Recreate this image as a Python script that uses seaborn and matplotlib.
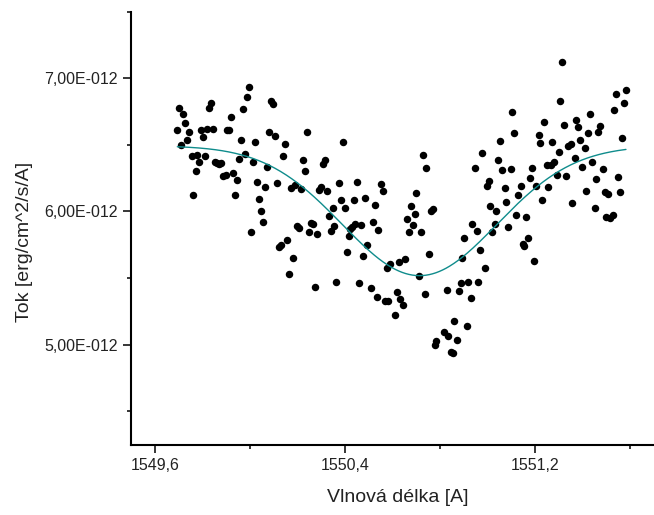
import matplotlib
matplotlib.use("Agg")
import numpy as np
import pandas as pd
import seaborn as sns
import matplotlib.pyplot as plt
from matplotlib.ticker import FuncFormatter, MultipleLocator

# Measured spectrum: wavelength [A] and flux [1e-12 erg/cm^2/s/A]
wavelength = [
    1549.695, 1549.704, 1549.712, 1549.720, 1549.728, 1549.736, 1549.744, 1549.755,
    1549.763, 1549.772, 1549.779, 1549.786, 1549.796, 1549.804, 1549.813, 1549.820,
    1549.828, 1549.837, 1549.846, 1549.855, 1549.863, 1549.872, 1549.880, 1549.888,
    1549.898, 1549.905, 1549.914, 1549.922, 1549.929, 1549.938, 1549.947, 1549.956,
    1549.963, 1549.971, 1549.980, 1549.988, 1549.998, 1550.006, 1550.013, 1550.023,
    1550.030, 1550.040, 1550.047, 1550.056, 1550.064, 1550.072, 1550.081, 1550.089,
    1550.098, 1550.106, 1550.115, 1550.123, 1550.131, 1550.140, 1550.148, 1550.157,
    1550.165, 1550.173, 1550.182, 1550.190, 1550.199, 1550.207, 1550.216, 1550.224,
    1550.232, 1550.241, 1550.249, 1550.258, 1550.266, 1550.275, 1550.283, 1550.291,
    1550.300, 1550.308, 1550.317, 1550.325, 1550.332, 1550.342, 1550.349, 1550.356,
    1550.365, 1550.376, 1550.384, 1550.391, 1550.399, 1550.409, 1550.418, 1550.423,
    1550.432, 1550.438, 1550.444, 1550.451, 1550.458, 1550.468, 1550.475, 1550.485,
    1550.493, 1550.509, 1550.517, 1550.527, 1550.536, 1550.542, 1550.551, 1550.559,
    1550.571, 1550.576, 1550.584, 1550.592, 1550.610, 1550.619, 1550.627, 1550.634,
    1550.645, 1550.652, 1550.662, 1550.669, 1550.679, 1550.687, 1550.696, 1550.702,
    1550.711, 1550.721, 1550.728, 1550.736, 1550.744, 1550.753, 1550.763, 1550.771,
    1550.778, 1550.784, 1550.819, 1550.829, 1550.836, 1550.847, 1550.856, 1550.861,
    1550.871, 1550.879, 1550.888, 1550.895, 1550.902, 1550.913, 1550.921, 1550.930,
    1550.937, 1550.947, 1550.955, 1550.963, 1550.971, 1550.979, 1550.989, 1550.997,
    1551.006, 1551.013, 1551.022, 1551.031, 1551.038, 1551.046, 1551.055, 1551.064,
    1551.073, 1551.080, 1551.088, 1551.098, 1551.105, 1551.114, 1551.122, 1551.131,
    1551.142, 1551.149, 1551.156, 1551.164, 1551.173, 1551.181, 1551.190, 1551.198,
    1551.206, 1551.216, 1551.223, 1551.232, 1551.239, 1551.251, 1551.257, 1551.268,
    1551.274, 1551.283, 1551.292, 1551.300, 1551.307, 1551.315, 1551.323, 1551.333,
    1551.342, 1551.351, 1551.357, 1551.368, 1551.375, 1551.383, 1551.392, 1551.399,
    1551.410, 1551.417, 1551.425, 1551.431, 1551.442, 1551.452, 1551.459, 1551.467,
    1551.475, 1551.486, 1551.494, 1551.500, 1551.510, 1551.518, 1551.528, 1551.535,
    1551.542, 1551.550, 1551.560, 1551.568, 1551.577, 1551.584,
]

flux = [
    6.612, 6.775, 6.497, 6.734, 6.665, 6.539, 6.597, 6.417,
    6.125, 6.307, 6.422, 6.374, 6.610, 6.562, 6.417, 6.617,
    6.779, 6.817, 6.622, 6.370, 6.361, 6.353, 6.362, 6.269,
    6.277, 6.614, 6.612, 6.707, 6.287, 6.122, 6.237, 6.392,
    6.535, 6.767, 6.432, 6.862, 6.932, 5.847, 6.370, 6.520,
    6.220, 6.095, 6.007, 5.924, 6.187, 6.337, 6.595, 6.827,
    6.805, 6.569, 6.217, 5.732, 5.749, 6.419, 6.509, 5.787,
    5.534, 6.175, 5.652, 6.200, 5.890, 5.877, 6.170, 6.387,
    6.307, 6.597, 5.845, 5.912, 5.905, 5.432, 5.830, 6.162,
    6.182, 6.357, 6.387, 6.155, 5.969, 5.854, 6.025, 5.890,
    5.467, 6.217, 6.085, 6.520, 6.025, 5.695, 5.819, 5.867,
    5.887, 6.085, 5.905, 6.222, 5.464, 5.899, 5.665, 6.102,
    5.747, 5.425, 5.920, 6.050, 5.354, 5.860, 6.205, 6.157,
    5.329, 5.579, 5.324, 5.605, 5.222, 5.395, 5.624, 5.339,
    5.294, 5.644, 5.944, 5.845, 6.044, 5.897, 5.982, 6.142,
    5.517, 5.845, 6.422, 5.380, 6.325, 5.682, 6.007, 6.017,
    4.999, 5.024, 5.095, 5.407, 5.061, 4.941, 4.937, 5.174,
    5.037, 5.402, 5.462, 5.654, 5.800, 5.140, 5.474, 5.350,
    5.905, 6.325, 5.852, 5.474, 5.707, 6.437, 5.579, 6.190,
    6.230, 6.042, 5.845, 5.907, 6.007, 6.389, 6.530, 6.312,
    6.177, 6.074, 5.882, 6.320, 6.749, 6.592, 5.977, 6.127,
    6.194, 5.759, 5.744, 5.960, 5.802, 6.250, 6.325, 5.627,
    6.192, 6.575, 6.512, 6.089, 6.672, 6.347, 6.187, 6.350,
    6.524, 6.370, 6.272, 6.445, 6.832, 7.125, 6.647, 6.267,
    6.492, 6.507, 6.062, 6.400, 6.685, 6.635, 6.535, 6.332,
    6.477, 6.152, 6.592, 6.732, 6.374, 6.025, 6.245, 6.595,
    6.644, 6.320, 6.147, 5.962, 6.132, 5.950, 5.975, 6.760,
    6.880, 6.260, 6.147, 6.552, 6.817, 6.910,
]

# Gaussian absorption-line fit parameters
fit_continuum = 6.493
fit_depth = 0.975
fit_center = 1550.715
fit_sigma = 0.325

spectrum = pd.DataFrame({"wavelength": wavelength, "flux": flux})
fit_x = np.linspace(min(wavelength), max(wavelength), 400)
fit = pd.DataFrame({
    "wavelength": fit_x,
    "flux": fit_continuum - fit_depth * np.exp(-0.5 * ((fit_x - fit_center) / fit_sigma) ** 2),
})

sns.set_theme(style="ticks")
plt.rcParams["font.family"] = ["Liberation Sans", "DejaVu Sans"]

W, H = 654, 515
fig = plt.figure(figsize=(W / 100, H / 100), dpi=100)
left_px, right_px, top_px, bottom_px = 131.0, 677.25, 11.7, 444.5
ax = fig.add_axes([left_px / W, 1 - bottom_px / H,
                   (right_px - left_px) / W, (bottom_px - top_px) / H])

sns.scatterplot(data=spectrum, x="wavelength", y="flux", ax=ax,
                s=29, color="black", linewidth=0, zorder=3, legend=False)
sns.lineplot(data=fit, x="wavelength", y="flux", ax=ax,
             color="#0f8c8c", linewidth=1.0, zorder=4, legend=False)

ax.set_xlim(1549.5, 1551.8)
ax.set_ylim(4.25, 7.5)

ax.xaxis.set_major_locator(MultipleLocator(0.8))
ax.xaxis.set_minor_locator(MultipleLocator(0.4))
ax.yaxis.set_major_locator(MultipleLocator(1.0))
ax.yaxis.set_minor_locator(MultipleLocator(0.5))
ax.xaxis.set_major_formatter(FuncFormatter(lambda v, p: f"{v:.1f}".replace(".", ",")))
ax.yaxis.set_major_formatter(FuncFormatter(lambda v, p: f"{v:.2f}E-012".replace(".", ",")))

for side in ("top", "right"):
    ax.spines[side].set_visible(False)
for side in ("left", "bottom"):
    ax.spines[side].set_linewidth(1.5)
    ax.spines[side].set_color("black")

ax.tick_params(which="major", direction="out", length=5.8, width=1.1,
               color="black", labelsize=11.5, labelcolor="#222222", pad=4)
ax.tick_params(which="minor", direction="out", length=3.0, width=1.1, color="black")

ax.set_xlabel("Vlnová délka [A]", fontsize=14, color="#222222")
ax.set_ylabel("Tok [erg/cm^2/s/A]", fontsize=14, color="#222222")
ax.xaxis.label.set(ha="center", va="center")
ax.yaxis.label.set(ha="center", va="center", rotation_mode="default")
ax.xaxis.set_label_coords((398 - left_px) / (right_px - left_px),
                          (bottom_px - 497) / (bottom_px - top_px))
ax.yaxis.set_label_coords((25 - left_px) / (right_px - left_px),
                          (bottom_px - 241.5) / (bottom_px - top_px))

fig.savefig("out.png", dpi=100)
